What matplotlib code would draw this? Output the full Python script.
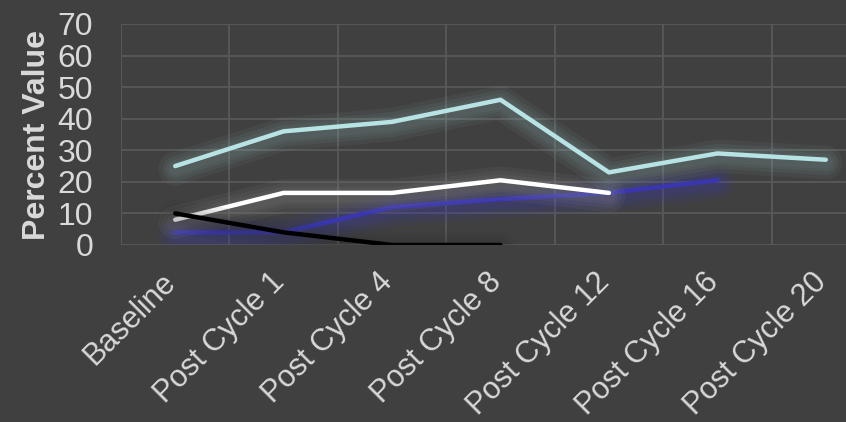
import numpy as np
import matplotlib
matplotlib.use("Agg")
import matplotlib.pyplot as plt
import matplotlib.patheffects as pe
import matplotlib.transforms as mtransforms
from matplotlib.ticker import FixedLocator, MultipleLocator

# =========================
# Data
# =========================

categories = ["Baseline", "Post Cycle 1", "Post Cycle 4", "Post Cycle 8",
              "Post Cycle 12", "Post Cycle 16", "Post Cycle 20"]

nan = np.nan
series_teal = [25, 36, 39, 46, 23, 29, 27]
series_white = [8, 16.5, 16.5, 20.5, 16.5, nan, nan]
series_blue = [4, 4, 12, 14.5, 16.5, 20.5, nan]
series_black = [10, 4, 0, 0, nan, nan, nan]

BG = "#404040"
GRID = "#595959"
TEXT = "#d9d9d9"

plt.rcParams["font.family"] = ["Liberation Sans", "DejaVu Sans"]


def glow(color, alpha=0.10, widths=(24, 18, 13, 9)):
    """Soft halo under a line, built from wide translucent strokes."""
    effects = []
    for w in widths:
        effects.append(pe.Stroke(linewidth=w, foreground=color, alpha=alpha,
                                 offset=(0, -2)))
    effects.append(pe.Normal())
    return effects


fig = plt.figure(figsize=(8.46, 4.22), dpi=100, facecolor=BG)
ax = fig.add_axes([121 / 846, 177 / 422, 759 / 846, 221 / 422])
ax.set_facecolor(BG)

x = np.arange(len(categories))

ax.plot(x, series_blue, color="#3a36b0", lw=3.2, solid_capstyle="round",
        path_effects=glow("#3a36c8", alpha=0.08), zorder=3)
ax.plot(x, series_white, color="#ffffff", lw=3.2, solid_capstyle="round",
        path_effects=glow("#9a9a9a", alpha=0.08), zorder=4)
ax.plot(x, series_black, color="#000000", lw=3.2, solid_capstyle="round",
        path_effects=glow("#2a2a2a", alpha=0.07), zorder=5)
ax.plot(x, series_teal, color="#b7e3e4", lw=3.2, solid_capstyle="round",
        path_effects=glow("#8fb0b0", alpha=0.08), zorder=6)

ax.set_xlim(-0.5, len(categories) - 0.5)
ax.set_ylim(0, 70)
ax.yaxis.set_major_locator(MultipleLocator(10))

# gridlines sit on the category boundaries
ax.xaxis.set_major_locator(FixedLocator(x))
ax.xaxis.set_minor_locator(FixedLocator(np.arange(-0.5, len(categories), 1.0)))
ax.grid(which="minor", axis="x", color=GRID, lw=1.3)
ax.grid(which="major", axis="y", color=GRID, lw=1.3)
ax.set_axisbelow(True)

ax.set_xticklabels(categories, rotation=45, ha="right", va="top",
                   fontsize=22, color=TEXT)
ax.tick_params(axis="x", which="both", length=0, pad=16)
ax.tick_params(axis="y", length=0, pad=20, labelsize=23, labelcolor=TEXT)

# nudge the slanted labels so their ends meet the category centre
shift = mtransforms.ScaledTranslation(7 / 100, 0, fig.dpi_scale_trans)
for lbl in ax.get_xticklabels():
    lbl.set_transform(lbl.get_transform() + shift)

for s in ax.spines.values():
    s.set_visible(False)

ax.set_ylabel("Percent Value", fontsize=23, fontweight="bold", color=TEXT,
              labelpad=4)

fig.savefig("out.png", dpi=100, facecolor=BG)
